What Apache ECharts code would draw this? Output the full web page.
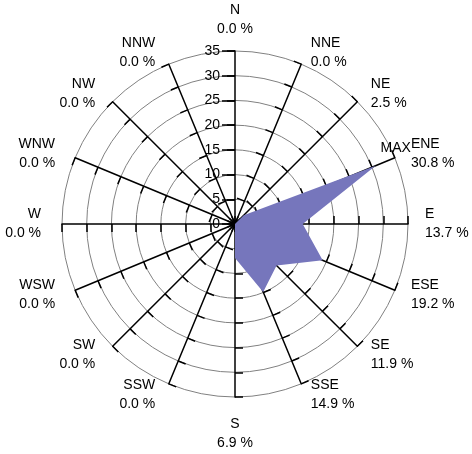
<!DOCTYPE html>
<html><head><meta charset="utf-8">
<script src="https://cdn.jsdelivr.net/npm/echarts@6/dist/echarts.min.js"></script>
<style>html,body{margin:0;padding:0;background:#fff}#c{width:472px;height:454px}</style>
</head><body><div id="c"></div>
<script>
const directions = ['N','NNE','NE','ENE','E','ESE','SE','SSE','S','SSW','SW','WSW','W','WNW','NW','NNW'];
const frequencies = [0.0,0.0,2.5,30.8,13.7,19.2,11.9,14.9,6.9,0.0,0.0,0.0,0.0,0.0,0.0,0.0];
const radialMax = 35;
const radialTicks = [0,5,10,15,20,25,30,35];

const FONT = 'Liberation Sans, Arial, sans-serif';
const maxVal = Math.max(...frequencies);
// radar indicators run counter-clockwise; order them so the compass reads clockwise
const order = directions.map((d,i)=>i).map(i => (16 - i) % 16);
const indicators = order.map(i => {
  const ind = { name: directions[i] + '\n' + frequencies[i].toFixed(1) + ' %', max: radialMax, min: 0 };
  if (i > 0 && i < 8) ind.nameTextStyle = { padding: [0, 0, 0, 5] };
  if (i > 8) ind.nameTextStyle = { padding: [0, 9, 0, 0] };
  if (i === 8) ind.nameTextStyle = { padding: [6, 0, 0, 0] };
  return ind;
});
const values = order.map(i => frequencies[i]);

const tickStyle = { color: '#000', width: 1.5 };
const chart = echarts.init(document.getElementById('c'));
chart.setOption({
  animation: false,
  radar: {
    center: [235, 224],
    radius: 173,
    startAngle: 90,
    shape: 'circle',
    splitNumber: radialTicks.length - 1,
    indicator: indicators,
    nameGap: 12,
    axisName: { color: '#000', fontFamily: FONT, fontSize: 14, lineHeight: 19 },
    axisLine: { lineStyle: { color: '#000', width: 1.5 } },
    axisTick: { show: true, length: 8, lineStyle: tickStyle },
    axisLabel: { show: false },
    splitLine: { lineStyle: { color: '#808080', width: 1 } },
    splitArea: { show: false }
  },
  polar: [
    { center: [235, 224], radius: 173 },
    { center: [235, 224], radius: 173 }
  ],
  angleAxis: [
    { polarIndex: 0, type: 'value', min: 0, max: 360, startAngle: 90, show: false },
    { polarIndex: 1, type: 'value', min: 0, max: 360, startAngle: 270, show: false }
  ],
  radiusAxis: [
    {
      polarIndex: 0, type: 'value', min: 0, max: radialMax, interval: 5, z: 5,
      axisLine: { show: false }, splitLine: { show: false },
      axisLabel: { show: true, color: '#000', fontFamily: FONT, fontSize: 14, margin: 15 },
      axisTick: { show: true, length: 13, lineStyle: tickStyle }
    },
    {
      polarIndex: 1, type: 'value', min: 0, max: radialMax, interval: 5,
      axisLine: { show: false }, axisLabel: { show: false }, splitLine: { show: false },
      axisTick: { show: true, inside: true, length: 8, lineStyle: tickStyle }
    }
  ],
  series: [{
    type: 'radar',
    z: 1,
    symbol: 'circle',
    symbolSize: 0,
    lineStyle: { width: 0 },
    itemStyle: { color: '#7676bc' },
    areaStyle: { color: '#7676bc', opacity: 1 },
    label: {
      show: true,
      color: '#000', fontFamily: FONT, fontSize: 14,
      position: 'top', offset: [20, -6],
      formatter: p => (p.value === maxVal ? 'MAX' : '')
    },
    data: [{ value: values }]
  }]
});
</script></body></html>
